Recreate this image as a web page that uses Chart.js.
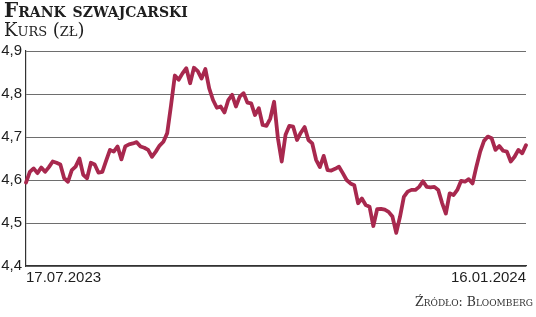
<!DOCTYPE html>
<html>
<head>
<meta charset="utf-8">
<script src="https://cdn.jsdelivr.net/npm/chart.js@4"></script>
<style>
  body { margin: 0; background: #fff; }
  #wrap { position: relative; width: 536px; height: 317px; overflow: hidden; }
  #chart { position: absolute; left: 0; top: 0; }
  .title { position: absolute; left: 4px; top: -2px; font: bold 20px "DejaVu Serif", serif; font-variant: small-caps; color: #1e1e1e; }
  .sub { position: absolute; left: 4px; top: 19px; font: 18px "DejaVu Serif", serif; font-variant: small-caps; color: #1e1e1e; }
  .src { position: absolute; right: 3px; top: 294px; font: 12.5px "DejaVu Serif", serif; font-variant: small-caps; color: #333; }
</style>
</head>
<body>
<div id="wrap">
  <canvas id="chart" width="536" height="317"></canvas>
  <div class="title">Frank szwajcarski</div>
  <div class="sub">Kurs (zł)</div>
  <div class="src">Źródło: Bloomberg</div>
</div>
<script>
const startLabel = '17.07.2023';
const endLabel = '16.01.2024';
const yTicks = [4.4, 4.5, 4.6, 4.7, 4.8, 4.9];

// CHF/PLN
const rates = [
  4.594, 4.619, 4.627, 4.616, 4.629, 4.619, 4.630, 4.643, 4.640, 4.636,
  4.604, 4.596, 4.623, 4.631, 4.650, 4.612, 4.604, 4.640, 4.636, 4.617,
  4.619, 4.645, 4.670, 4.666, 4.678, 4.648, 4.678, 4.683, 4.685, 4.688,
  4.678, 4.675, 4.670, 4.654, 4.666, 4.680, 4.689, 4.709, 4.774, 4.843,
  4.833, 4.848, 4.860, 4.825, 4.861, 4.853, 4.836, 4.858, 4.813, 4.786,
  4.768, 4.771, 4.757, 4.786, 4.798, 4.771, 4.794, 4.802, 4.780, 4.778,
  4.751, 4.767, 4.728, 4.726, 4.743, 4.782, 4.697, 4.643, 4.705, 4.726,
  4.724, 4.693, 4.710, 4.723, 4.693, 4.685, 4.647, 4.630, 4.656, 4.623,
  4.622, 4.626, 4.631, 4.616, 4.600, 4.592, 4.588, 4.546, 4.557, 4.542,
  4.538, 4.493, 4.532, 4.533, 4.531, 4.526, 4.515, 4.477, 4.515, 4.561,
  4.573, 4.577, 4.577, 4.584, 4.597, 4.584, 4.583, 4.584, 4.577, 4.547,
  4.522, 4.569, 4.565, 4.577, 4.598, 4.596, 4.602, 4.592, 4.631, 4.666,
  4.691, 4.701, 4.697, 4.670, 4.679, 4.668, 4.666, 4.643, 4.654, 4.670,
  4.662, 4.681
];

const labels = rates.map((v, i) => i === 0 ? startLabel : (i === rates.length - 1 ? endLabel : ''));

new Chart(document.getElementById('chart'), {
  type: 'line',
  data: {
    labels: labels,
    datasets: [{
      data: rates,
      borderColor: '#a8284e',
      borderWidth: 3.8,
      pointRadius: 0,
      tension: 0,
      borderJoinStyle: 'round',
      borderCapStyle: 'round'
    }]
  },
  options: {
    responsive: false,
    animation: false,
    events: [],
    layout: { padding: { top: 51, right: 10, bottom: 27, left: 0 } },
    plugins: { legend: { display: false }, tooltip: { enabled: false } },
    scales: {
      x: {
        offset: false,
        grid: { display: false, drawTicks: false },
        border: { display: true, color: '#333', width: 1.2 },
        afterFit: s => { s.height = 24; },
        ticks: {
          autoSkip: false,
          maxRotation: 0,
          align: 'inner',
          padding: 3,
          color: '#1e1e1e',
          font: { family: '"Liberation Sans Narrow", "Liberation Sans", sans-serif', size: 15 },
          callback: function (v, i) { return labels[i]; }
        }
      },
      y: {
        min: yTicks[0],
        max: yTicks[yTicks.length - 1],
        afterBuildTicks: s => { s.ticks = yTicks.map(v => ({ value: v })); },
        afterFit: s => { s.width = 26; },
        grid: { color: '#6e6e6e', lineWidth: 1, drawTicks: false },
        border: { display: true, color: '#333', width: 1.2 },
        ticks: {
          padding: 4,
          color: '#1e1e1e',
          font: { family: '"Liberation Sans Narrow", "Liberation Sans", sans-serif', size: 15 },
          callback: v => v.toFixed(1).replace('.', ',')
        }
      }
    }
  }
});
</script>
</body>
</html>
